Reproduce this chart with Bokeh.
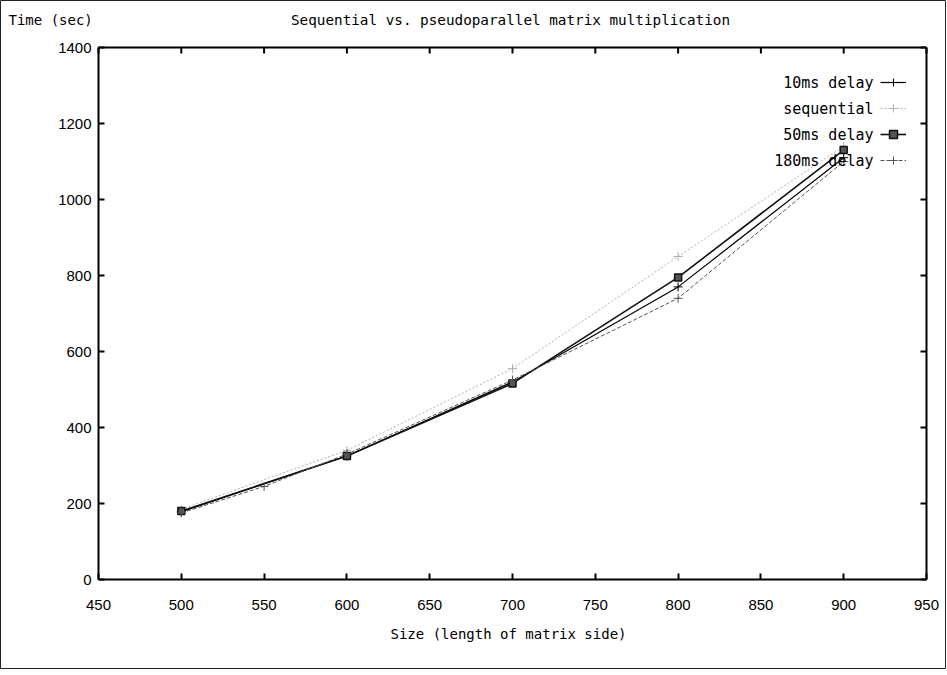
import math
from bokeh.plotting import figure
from bokeh.models import (Range1d, LinearAxis, FixedTicker, Label, Legend, LegendItem)
from bokeh.embed import file_html
from bokeh.resources import INLINE

# ---- data ----
x_10ms = [500, 600, 700, 800, 900]
y_10ms = [178, 325, 520, 770, 1110]
x_seq = [500, 600, 700, 800, 900]
y_seq = [185, 340, 555, 850, 1140]
x_50ms = [500, 600, 700, 800, 900]
y_50ms = [180, 325, 516, 795, 1130]
x_180ms = [500, 550, 600, 700, 800, 900]
y_180ms = [175, 245, 330, 525, 740, 1100]
x_ticks = [450, 500, 550, 600, 650, 700, 750, 800, 850, 900, 950]
y_ticks = [0, 200, 400, 600, 800, 1000, 1200, 1400]

title_text = "Sequential vs. pseudoparallel matrix multiplication"
ylabel_text = "Time (sec)"
xlabel_text = "Size (length of matrix side)"
names = ["10ms delay", "sequential", "50ms delay", "180ms delay"]

MONO = "DejaVu Sans Mono"
SANS = "Liberation Sans"

# ---- layout (pixels) ----
W, H = 946, 669
BOX_L, BOX_R, BOX_T, BOX_B = 98, 926, 47, 579
XMIN, XMAX, YMIN, YMAX = x_ticks[0], x_ticks[-1], y_ticks[0], y_ticks[-1]
kx = (BOX_R - BOX_L) / (XMAX - XMIN)
ky = (BOX_B - BOX_T) / (YMAX - YMIN)
xr = Range1d(XMIN - BOX_L / kx, XMAX + (W - BOX_R) / kx)
yr = Range1d(YMIN - (H - BOX_B) / ky, YMAX + BOX_T / ky)

p = figure(width=W, height=H, output_backend="svg", toolbar_location=None,
           x_range=xr, y_range=yr, x_axis_type=None, y_axis_type=None,
           min_border=0)
p.xgrid.visible = False
p.ygrid.visible = False
p.outline_line_color = "#222222"
p.outline_line_width = 1
p.background_fill_color = "white"
p.border_fill_color = "white"


def mk_axis(ticks, bounds, loc, standoff):
    return LinearAxis(ticker=FixedTicker(ticks=ticks), bounds=bounds, fixed_location=loc,
                      major_tick_in=6, major_tick_out=0, minor_tick_line_color=None,
                      axis_line_width=2, major_tick_line_width=2, axis_line_color="black",
                      major_tick_line_color="black",
                      major_label_text_font=SANS, major_label_text_font_size="15px",
                      major_label_text_color="black", major_label_standoff=standoff)


p.add_layout(mk_axis(x_ticks, (XMIN, XMAX), YMIN, 20), "below")
p.add_layout(mk_axis(y_ticks, (YMIN, YMAX), XMIN, 7), "left")

# mirrored box edges and inward ticks on top and right
p.segment(x0=[XMIN, XMAX], y0=[YMAX, YMIN], x1=[XMAX, XMAX], y1=[YMAX, YMAX],
          line_color="black", line_width=2)
p.ray(x=x_ticks, y=[YMAX] * len(x_ticks), angle=-math.pi / 2, length=6,
      length_units="screen", line_color="black", line_width=2)
p.ray(x=[XMAX] * len(y_ticks), y=y_ticks, angle=math.pi, length=6,
      length_units="screen", line_color="black", line_width=2)

# series
r1 = p.line(x_10ms, y_10ms, line_color="black", line_width=1.2)
m1 = p.scatter(x_10ms, y_10ms, marker="cross", size=9, line_color="black", line_width=1)
r2 = p.line(x_seq, y_seq, line_color="#b0b0b0", line_width=1, line_dash="2 2")
m2 = p.scatter(x_seq, y_seq, marker="cross", size=9, line_color="#b0b0b0", line_width=1)
r3 = p.line(x_50ms, y_50ms, line_color="#111111", line_width=1.6)
m3 = p.scatter(x_50ms, y_50ms, marker="square", size=7, line_color="#111111",
               fill_color="#555555", line_width=1.5)
r4 = p.line(x_180ms, y_180ms, line_color="#555555", line_width=1, line_dash="4 2")
m4 = p.scatter(x_180ms, y_180ms, marker="cross", size=9, line_color="#555555", line_width=1)

legend = Legend(items=[LegendItem(label=" ", renderers=[r1, m1]),
                       LegendItem(label=" ", renderers=[r2, m2]),
                       LegendItem(label=" ", renderers=[r3, m3]),
                       LegendItem(label=" ", renderers=[r4, m4])],
                location=(880, H - 72 - 98), padding=0, margin=0, spacing=6,
                glyph_width=26, glyph_height=20, label_width=0, label_standoff=0,
                label_text_font_size="1px",
                border_line_alpha=0, background_fill_alpha=0)
p.add_layout(legend, "center")

# legend texts (right aligned, left of samples)
for i, nm in enumerate(names):
    p.add_layout(Label(x=873, y=H - 82 - 26 * i, x_units="screen", y_units="screen",
                       text=nm, text_font=MONO, text_font_size="15px",
                       text_align="right", text_baseline="middle", text_color="black"))

# title, y label (top-left), x label
p.add_layout(Label(x=510, y=H - 19, x_units="screen", y_units="screen", text=title_text,
                   text_font=MONO, text_font_size="14.3px", text_align="center",
                   text_baseline="middle", text_color="black"))
p.add_layout(Label(x=8, y=H - 19, x_units="screen", y_units="screen", text=ylabel_text,
                   text_font=MONO, text_font_size="14px", text_align="left",
                   text_baseline="middle", text_color="black"))
p.add_layout(Label(x=508, y=H - 633, x_units="screen", y_units="screen", text=xlabel_text,
                   text_font=MONO, text_font_size="14px", text_align="center",
                   text_baseline="middle", text_color="black"))

open("out.html", "w").write(file_html(p, INLINE))
